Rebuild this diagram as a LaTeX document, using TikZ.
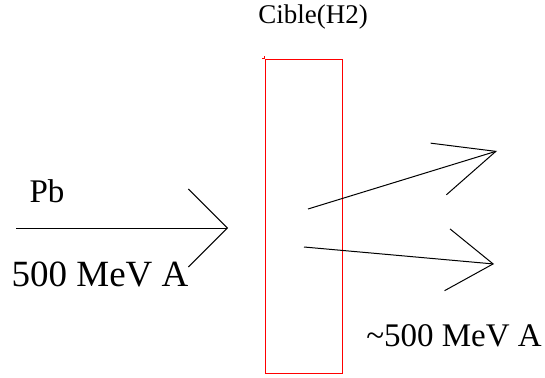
\documentclass[tikz,border=0pt]{standalone}
\usepackage{fontspec}
\setmainfont{Liberation Serif}
\usetikzlibrary{arrows.meta}

\begin{document}
\begin{tikzpicture}[x=1pt,y=-1pt,
  big/.style={font=\fontsize{37}{40}\selectfont,inner sep=0pt},
  beam/.style={line width=1pt}]
\useasboundingbox (0,0) rectangle (545,377);
% cible
\node[font=\fontsize{27}{30}\selectfont,inner sep=0pt] (cible) at (313,17) {Cible(H2)};
\node[draw=red,line width=0.9pt,minimum width=77pt,minimum height=314pt,inner sep=0pt] (target) at (303.5,216) {};
\draw[red,line width=0.9pt] (target.north west) -- +(-3,0) (target.north west) -- +(0,-3);
% faisceau incident
\coordinate (beamin) at (16,228);
\coordinate (beamtip) at (228,228);
\draw[beam,-{Straight Barb[length=39pt,width=78pt]}] (beamin) -- (beamtip);
\node[big,font=\fontsize{33}{36}\selectfont] (pb) at (47,191) {Pb};
\node[big] (ein) at (100,274) {500 MeV A};
% produits
\coordinate (outa) at (308,209);
\coordinate (tipa) at (497,151);
\coordinate (outb) at (304,247);
\coordinate (tipb) at (494,264);
\draw[beam,-{Straight Barb[length=60pt,width=54pt]}] (outa) -- (tipa);
\draw[beam,-{Straight Barb[length=46pt,width=62pt]}] (outb) -- (tipb);
\node[big,font=\fontsize{33}{36}\selectfont] (eout) at (454,336) {\textasciitilde 500 MeV A};
\end{tikzpicture}
\end{document}
